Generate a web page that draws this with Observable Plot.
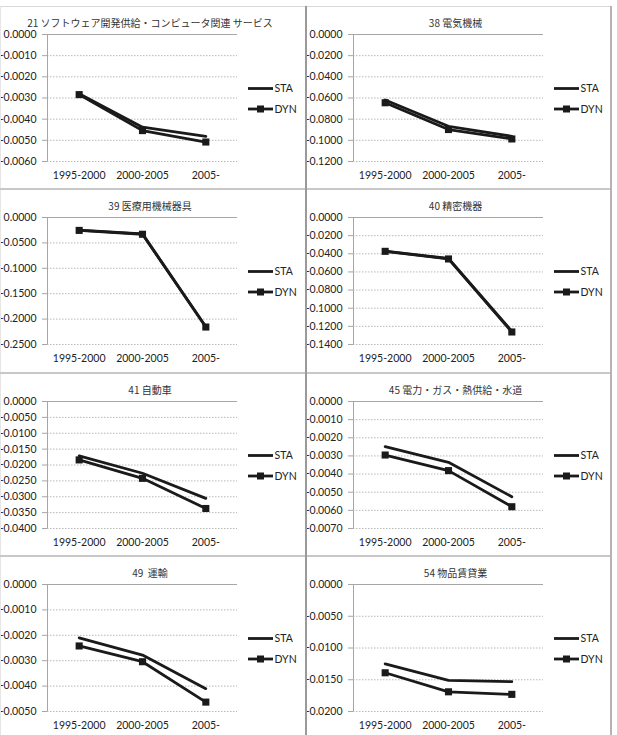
<!DOCTYPE html>
<html><head><meta charset="utf-8">
<script src="https://cdn.jsdelivr.net/npm/d3@7"></script>
<script src="https://cdn.jsdelivr.net/npm/@observablehq/plot@0.6"></script>
<style>
body{margin:0;background:#fff;}
#root{position:relative;width:617px;height:735px;overflow:hidden;background:#fff;}
.cell{position:absolute;width:305px;height:184px;}
.cell svg.plot{position:absolute;left:0;top:0;}
.title{position:absolute;top:10px;left:0;width:300px;text-align:center;font-family:"Noto Sans CJK JP";font-size:10px;line-height:14px;color:#333;white-space:pre;}
.legend{position:absolute;left:245px;top:72px;}
.bl{position:absolute;}
</style>
</head><body>
<div id="root"></div>
<script>
const periods = ["1995-2000", "2000-2005", "2005-"];
const titles = [
  "21 ソフトウェア開発供給・コンピュータ関連 サービス",
  "38 電気機械",
  "39 医療用機械器具",
  "40 精密機器",
  "41 自動車",
  "45 電力・ガス・熱供給・水道",
  "49  運輸",
  "54 物品賃貸業"
];
const seriesNames = ["STA", "DYN"];
const staValues = [
  [-0.0028, -0.00438, -0.00481],
  [-0.0619, -0.0867, -0.0962],
  [-0.0250, -0.0322, -0.2150],
  [-0.0370, -0.0452, -0.1255],
  [-0.01715, -0.0226, -0.0305],
  [-0.00249, -0.00335, -0.00525],
  [-0.0021, -0.00278, -0.0041],
  [-0.0125, -0.0151, -0.0153]
];
const dynValues = [
  [-0.00284, -0.00454, -0.00508],
  [-0.0645, -0.0898, -0.0987],
  [-0.0254, -0.0330, -0.2156],
  [-0.0373, -0.0457, -0.1262],
  [-0.0184, -0.0242, -0.0337],
  [-0.00295, -0.00381, -0.0058],
  [-0.00242, -0.00304, -0.00463],
  [-0.0139, -0.0169, -0.0173]
];
const yTicks = [
  [0, -0.001, -0.002, -0.003, -0.004, -0.005, -0.006],
  [0, -0.02, -0.04, -0.06, -0.08, -0.10, -0.12],
  [0, -0.05, -0.10, -0.15, -0.20, -0.25],
  [0, -0.02, -0.04, -0.06, -0.08, -0.10, -0.12, -0.14],
  [0, -0.005, -0.010, -0.015, -0.020, -0.025, -0.030, -0.035, -0.040],
  [0, -0.001, -0.002, -0.003, -0.004, -0.005, -0.006, -0.007],
  [0, -0.001, -0.002, -0.003, -0.004, -0.005],
  [0, -0.005, -0.010, -0.015, -0.020]
];

const root = document.getElementById("root");
const LINE = "#1a1a1a";

function panel(i) {
  const sta = periods.map((p, j) => ({j, v: staValues[i][j]}));
  const dyn = periods.map((p, j) => ({j, v: dynValues[i][j]}));
  const ticks = yTicks[i];
  const yMin = d3.min(ticks);
  return Plot.plot({
    width: 300, height: 184,
    marginLeft: 47, marginRight: 63, marginTop: 28, marginBottom: 29,
    style: {fontFamily: "Lato", fontSize: "10.5px", color: "#222", background: "transparent"},
    x: {type: "linear", domain: [-0.5, 2.5], axis: null},
    y: {domain: [yMin, 0], axis: null},
    marks: [
      Plot.ruleY(ticks.filter(t => t !== 0), {stroke: "#b8b8b8", strokeDasharray: "1.5,1.5"}),
      Plot.ruleY([0], {stroke: "#a6a6a6"}),
      Plot.ruleX([-0.5], {stroke: "#a6a6a6"}),
      Plot.axisY({ticks, label: null, tickSize: 5, tickPadding: 6, tickFormat: d => d.toFixed(4), stroke: "#a6a6a6", fill: "#222"}),
      Plot.axisX({ticks: [0, 1, 2], label: null, tickSize: 0, tickPadding: 10, tickFormat: j => periods[j], anchor: "bottom", fill: "#222"}),
      Plot.lineY(sta, {x: "j", y: "v", stroke: LINE, strokeWidth: 2.8}),
      Plot.lineY(dyn, {x: "j", y: "v", stroke: LINE, strokeWidth: 2.8}),
      Plot.dot(dyn, {x: "j", y: "v", symbol: "square", r: 4, fill: LINE})
    ]
  });
}

function legend() {
  const ns = "http://www.w3.org/2000/svg";
  const svg = document.createElementNS(ns, "svg");
  svg.setAttribute("class", "legend");
  svg.setAttribute("width", 55);
  svg.setAttribute("height", 40);
  const ys = [10.5, 31];
  seriesNames.forEach((name, k) => {
    const l = document.createElementNS(ns, "line");
    l.setAttribute("x1", 3); l.setAttribute("x2", 28);
    l.setAttribute("y1", ys[k]); l.setAttribute("y2", ys[k]);
    l.setAttribute("stroke", LINE); l.setAttribute("stroke-width", 2.8);
    svg.appendChild(l);
    if (name === "DYN") {
      const r = document.createElementNS(ns, "rect");
      r.setAttribute("x", 12); r.setAttribute("y", ys[k] - 3.5);
      r.setAttribute("width", 7); r.setAttribute("height", 7);
      r.setAttribute("fill", LINE);
      svg.appendChild(r);
    }
    const t = document.createElementNS(ns, "text");
    t.setAttribute("x", 29.5); t.setAttribute("y", ys[k]);
    t.setAttribute("dy", "0.35em");
    t.setAttribute("font-family", "Lato"); t.setAttribute("font-size", 10.5);
    t.setAttribute("fill", "#222");
    t.textContent = name;
    svg.appendChild(t);
  });
  return svg;
}

const rowTop = r => 6 + r * 183.35;
titles.forEach((title, i) => {
  const r = Math.floor(i / 2), c = i % 2;
  const cell = document.createElement("div");
  cell.className = "cell";
  cell.style.left = (c === 0 ? 0 : 305.5) + "px";
  cell.style.top = rowTop(r) + "px";
  const p = panel(i);
  p.classList.add("plot");
  cell.appendChild(p);
  const tt = document.createElement("div");
  tt.className = "title";
  tt.textContent = title;
  cell.appendChild(tt);
  cell.appendChild(legend());
  root.appendChild(cell);
});

function bline(x, y, w, h, color) {
  const d = document.createElement("div");
  d.className = "bl";
  Object.assign(d.style, {left: x + "px", top: y + "px", width: w + "px", height: h + "px", background: color});
  root.appendChild(d);
}
bline(0, 6, 612, 1, "#d9d9d9");
bline(0, 6, 1, 735, "#e6e6e6");
[1, 2, 3].forEach(r => bline(0, rowTop(r) - 1, 612, 2, "#c8c8c8"));
bline(304.5, 6, 2, 735, "#9a9a9a");
bline(610, 6, 2, 735, "#b4b4b4");
</script>
</body></html>
